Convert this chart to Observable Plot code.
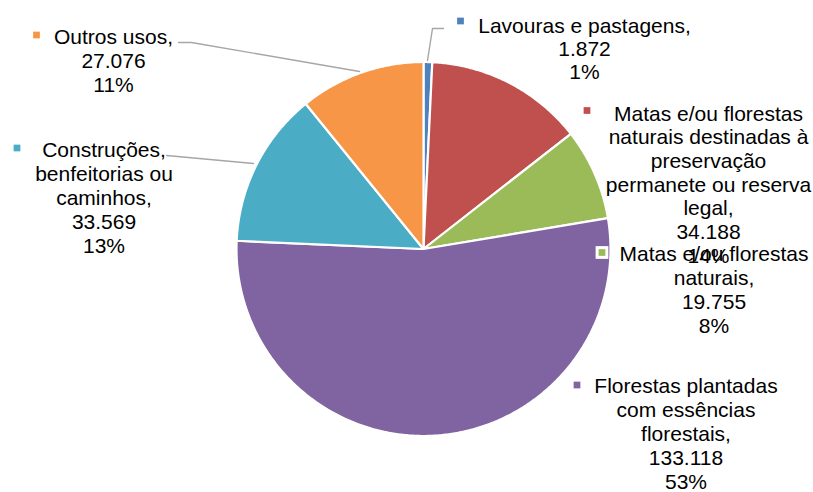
<!DOCTYPE html>
<html><head><meta charset="utf-8">
<script src="https://cdn.jsdelivr.net/npm/d3@7"></script>
<script src="https://cdn.jsdelivr.net/npm/@observablehq/plot@0.6"></script>
<style>html,body{margin:0;padding:0;background:#fff}</style>
</head><body><div id="chart"></div>
<script>
// ---- data ----
const categories = [
  "Lavouras e pastagens",
  "Matas e/ou florestas naturais destinadas à preservação permanete ou reserva legal",
  "Matas e/ou florestas naturais",
  "Florestas plantadas com essências florestais",
  "Construções, benfeitorias ou caminhos",
  "Outros usos"
];
const values = [1.872, 34.188, 19.755, 133.118, 33.569, 27.076];
const valueLabels = ["1.872", "34.188", "19.755", "133.118", "33.569", "27.076"];
const percentLabels = ["1%", "14%", "8%", "53%", "13%", "11%"];
const nameLines = [
  ["Lavouras e pastagens,"],
  ["Matas e/ou florestas", "naturais destinadas à", "preservação", "permanete ou reserva", "legal,"],
  ["Matas e/ou florestas", "naturais,"],
  ["Florestas plantadas", "com essências", "florestais,"],
  ["Construções,", "benfeitorias ou", "caminhos,"],
  ["Outros usos,"]
];

// ---- style / layout ----
const palette = ["#4F81BD", "#C0504D", "#9BBB59", "#8064A2", "#4BACC6", "#F79646"];
const W = 813, H = 492;
const cx = 423, cy = 248.5, R = 187;
const fontSize = 21;
const layout = [
  {tx: 584, ty: 32, mx: 460, my: 20.5, step: 23, leader: [[443, 28], [432, 28], [427, 60]]},
  {tx: 708, ty: 120, mx: 586.5, my: 110, step: 23.7, leader: null},
  {tx: 713.5, ty: 260, mx: 601.5, my: 252, step: 24, leader: null},
  {tx: 685.5, ty: 392, mx: 576.5, my: 384.5, step: 24.2, leader: null},
  {tx: 103.5, ty: 156, mx: 16.5, my: 147.5, step: 24, leader: [[166, 155], [253, 163]]},
  {tx: 113, ty: 43, mx: 36, my: 34.5, step: 24.3, leader: [[178, 42], [191, 42], [359, 71]]}
];

// ---- derived geometry ----
const arcs = d3.pie().sort(null).value(d => d)(values);
const slicePts = [];
arcs.forEach((a, i) => {
  const n = Math.max(2, Math.ceil((a.endAngle - a.startAngle) / (Math.PI / 360)));
  slicePts.push({cat: categories[i], x: cx, y: cy});
  for (let k = 0; k <= n; k++) {
    const t = a.startAngle + (a.endAngle - a.startAngle) * k / n;
    slicePts.push({cat: categories[i], x: cx + R * Math.sin(t), y: cy - R * Math.cos(t)});
  }
});

const textRows = [];
const markers = [];
const leaderPts = [];
categories.forEach((c, i) => {
  const L = layout[i];
  const lines = [...nameLines[i], valueLabels[i], percentLabels[i]];
  lines.forEach((s, k) => textRows.push({x: L.tx, y: L.ty + k * L.step, text: s}));
  markers.push({cat: c, x: L.mx, y: L.my});
  if (L.leader) L.leader.forEach(([x, y]) => leaderPts.push({id: i, x, y}));
});

const chart = Plot.plot({
  width: W, height: H, margin: 0,
  x: {domain: [0, W], range: [0, W], axis: null},
  y: {domain: [0, H], range: [0, H], axis: null},
  color: {domain: categories, range: palette},
  style: {fontFamily: "'Liberation Sans', Arial, sans-serif", background: "#fff"},
  marks: [
    Plot.line(slicePts, {x: "x", y: "y", z: "cat", fill: "cat", stroke: "white", strokeWidth: 2.2, curve: "linear-closed", strokeLinejoin: "round"}),
    Plot.line(leaderPts, {x: "x", y: "y", z: "id", stroke: "#a6a6a6", strokeWidth: 1.4}),
    Plot.text(textRows, {x: "x", y: "y", text: "text", fontSize, lineAnchor: "bottom", textAnchor: "middle", fill: "#000"}),
    Plot.dot(markers, {x: "x", y: "y", symbol: "square", fill: "white", r: 7.2}),
    Plot.dot(markers, {x: "x", y: "y", symbol: "square", fill: "cat", r: 3.8})
  ]
});
document.getElementById("chart").appendChild(chart);
</script>
</body></html>
